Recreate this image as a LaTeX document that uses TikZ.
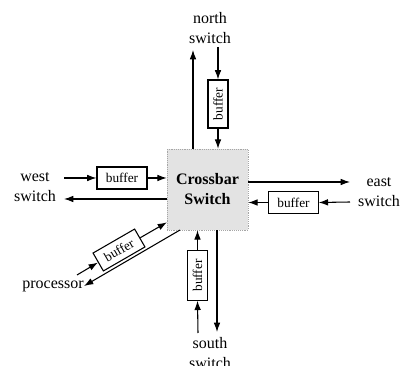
\documentclass[tikz,border=0pt]{standalone}
\usepackage{fontspec}
\setmainfont{Liberation Serif}
\usetikzlibrary{arrows.meta}
\begin{document}
\begin{tikzpicture}[x=0.75pt,y=-0.75pt,
  lbl/.style={font=\fontsize{12}{15}\selectfont, align=center, inner sep=0pt},
  buf/.style={draw, fill=white, line width=0.8pt, inner sep=0pt, font=\fontsize{10}{10}\selectfont},
  conn/.style={line width=0.8pt},
  arr/.style={conn, -{Latex[length=7pt,width=5pt]}}]
\useasboundingbox (0,0) rectangle (400,366);
% crossbar
\node[draw=gray!70, densely dotted, fill=gray!22, minimum width=60.75pt, minimum height=60.75pt,
      font=\fontsize{12}{15}\selectfont\bfseries, align=center, inner sep=0pt] (cb) at (207.5,189.5) {Crossbar\\Switch};
% labels
\node[lbl] (north) at (210,28) {north\\switch};
\node[lbl] (west) at (35,187) {west\\switch};
\node[lbl] (east) at (379,192) {east\\switch};
\node[lbl] (south) at (210,353) {south\\switch};
\node[lbl, anchor=east] (proc) at (84,286) {processor};
% buffers
\node[buf, minimum width=37.5pt, minimum height=16.5pt] (bw) at (122,178) {buffer};
\node[buf, minimum width=37pt, minimum height=16pt] (be) at (293.5,202.5) {buffer};
\node[buf, minimum width=15pt, minimum height=36pt] (bn) at (218,104) {\rotatebox{90}{buffer}};
\node[buf, minimum width=15.5pt, minimum height=37pt] (bs) at (197.5,275.5) {\rotatebox{90}{buffer}};
\node[buf, minimum width=36pt, minimum height=15.5pt, rotate=30] (bp) at (119,250) {buffer};
% free ends
\coordinate (wi) at (64,178);
\coordinate (wo) at (64,199);
\coordinate (eo) at (350,182);
\coordinate (ei) at (350,202);
\coordinate (no) at (193,50);
\coordinate (ni) at (218,47);
\coordinate (so) at (217,332);
\coordinate (si) at (198,333);
\coordinate (pi) at (77,275);
\coordinate (pin) at (167,222.3);
\coordinate (pst) at (180,230);
% west
\draw[arr] (wi) -- (bw.west);
\draw[arr] (bw.east) -- (bw.east -| cb.west);
\draw[arr] (cb.west |- wo) -- (wo);
% east
\draw[arr] (cb.east |- eo) -- (eo);
\draw[arr] (ei) -- (be.east);
\draw[arr] (be.west) -- (be.west -| cb.east);
% north
\draw[arr] (cb.north -| no) -- (no);
\draw[arr] (ni) -- (bn.north);
\draw[arr] (bn.south) -- (bn.south |- cb.north);
% south
\draw[arr] (si) -- (bs.south);
\draw[arr] (bs.north) -- (bs.north |- cb.south);
\draw[arr] (cb.south -| so) -- (so);
% processor
\draw[arr] (pi) -- (bp);
\draw[arr] (bp) -- (pin);
\draw[arr] (pst) -- (proc.east);
\end{tikzpicture}
\end{document}
